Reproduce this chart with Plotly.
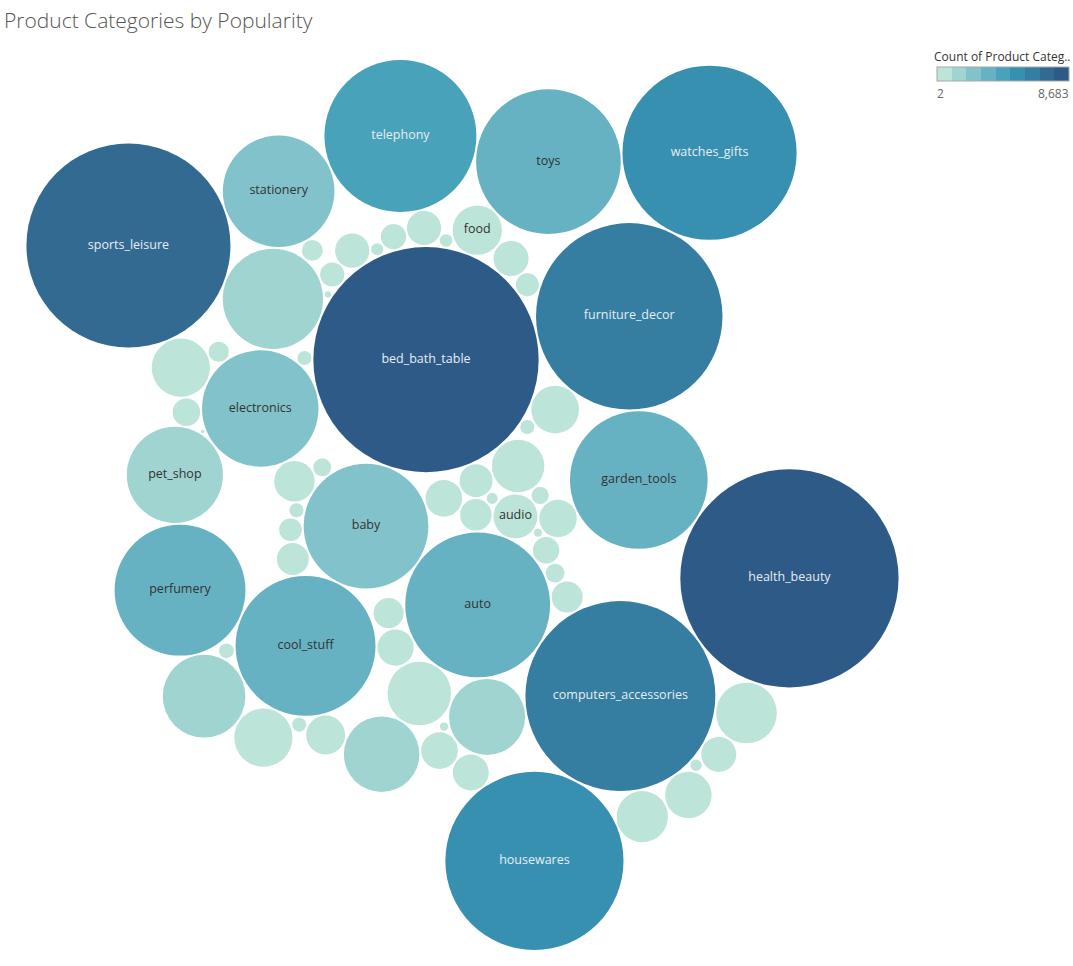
import math
import plotly.graph_objects as go

# ---------------- data ----------------
categories = [
    "agro_industry_and_commerce", "air_conditioning", "art", "arts_and_craftmanship", "audio",
    "auto", "baby", "bed_bath_table", "books_general_interest", "books_imported",
    "books_technical", "cds_dvds_musicals", "christmas_supplies", "cine_photo", "computers",
    "computers_accessories", "consoles_games", "construction_tools_construction",
    "construction_tools_lights", "construction_tools_safety", "cool_stuff",
    "costruction_tools_garden", "costruction_tools_tools", "diapers_and_hygiene", "drinks",
    "dvds_blu_ray", "electronics", "fashio_female_clothing", "fashion_bags_accessories",
    "fashion_childrens_clothes", "fashion_male_clothing", "fashion_shoes", "fashion_sport",
    "fashion_underwear_beach", "fixed_telephony", "flowers", "food", "food_drink",
    "furniture_bedroom", "furniture_decor", "furniture_living_room",
    "furniture_mattress_and_upholstery", "garden_tools", "health_beauty", "home_appliances",
    "home_appliances_2", "home_comfort_2", "home_confort", "home_construction", "housewares",
    "industry_commerce_and_business", "kitchen_dining_laundry_garden_furniture", "la_cuisine",
    "luggage_accessories", "market_place", "music", "musical_instruments", "office_furniture",
    "party_supplies", "perfumery", "pet_shop", "security_and_services",
    "signaling_and_security", "small_appliances", "small_appliances_home_oven_and_coffee",
    "sports_leisure", "stationery", "tablets_printing_image", "telephony", "toys",
    "watches_gifts",
]
counts = [
    170, 230, 185, 21, 330,
    3590, 2660, 8683, 470, 50,
    240, 11, 120, 60, 165,
    6170, 990, 690,
    225, 155, 3350,
    175, 88, 34, 280,
    55, 2320, 33, 1720,
    7, 100, 200, 25,
    110, 200, 27, 415, 210,
    90, 5950, 390,
    34, 3240, 8150, 630,
    210, 22, 370, 450, 5430,
    220, 230, 12,
    975, 260, 34, 580, 1170,
    37, 2930, 1580, 2,
    130, 580, 70,
    7120, 2130, 74, 3950, 3580,
    5190,
]

TITLE = "Product Categories by Popularity"
LEGEND_TITLE = "Count of Product Categ.."

# ---------------- style ----------------
STEP_COLORS = ["#bce4d8", "#9fd4d1", "#82c3cb", "#66b2c2", "#47a2ba",
               "#3890b1", "#357da1", "#336a91", "#2d5a87"]
W, H = 1073, 966
PLOT_X0, PLOT_X1 = 0, 925      # pixel box of the bubble area
PLOT_Y0, PLOT_Y1 = 60, 950
PAD = 0.8                      # half gap between bubbles (data units)
ROT_DEG = 152.7                # orientation of the packed layout
FONT = "Open Sans"

vmin, vmax = min(counts), max(counts)
nsteps = len(STEP_COLORS)


def step_index(v):
    idx = int((v - vmin) / (vmax - vmin) * nsteps)
    return min(idx, nsteps - 1)


# ---------------- front-chain sibling packing (spiral, in data order) ----------------
radii = [math.sqrt(v) for v in counts]
R = [r + PAD for r in radii]
n = len(R)
PX = [0.0] * n
PY = [0.0] * n
nxt = list(range(n))
prv = list(range(n))


def pack_place(a, b, c):
    db = R[a] + R[c]
    dx = PX[b] - PX[a]
    dy = PY[b] - PY[a]
    if db and (dx or dy):
        da = R[b] + R[c]
        dc = dx * dx + dy * dy
        da *= da
        db *= db
        x = 0.5 + (db - da) / (2 * dc)
        db2 = db - dc
        y = math.sqrt(max(0.0, 2 * da * (db + dc) - db2 * db2 - da * da)) / (2 * dc)
        PX[c] = PX[a] + x * dx + y * dy
        PY[c] = PY[a] + x * dy - y * dx
    else:
        PX[c] = PX[a] + db
        PY[c] = PY[a]


def pack_insert(a, b):
    c = nxt[a]
    nxt[a] = b
    prv[b] = a
    nxt[b] = c
    prv[c] = b


def pack_splice(a, b):
    nxt[a] = b
    prv[b] = a


def pack_intersects(a, b):
    dx = PX[b] - PX[a]
    dy = PY[b] - PY[a]
    dr = R[a] + R[b]
    return 0.999 * dr * dr > dx * dx + dy * dy


a = 0
PX[a] = -R[a]
b = 1
PX[b] = R[b]
c = 2
pack_place(a, b, c)
pack_insert(a, c)
prv[a] = c
pack_insert(c, b)
b = nxt[a]
i = 3
while i < n:
    c = i
    pack_place(a, b, c)
    isect = False
    s1, s2 = 1, 1
    j = nxt[b]
    while j != b:
        if pack_intersects(j, c):
            isect = True
            break
        j = nxt[j]
        s1 += 1
    if isect:
        k = prv[a]
        while k != prv[j]:
            if pack_intersects(k, c):
                break
            k = prv[k]
            s2 += 1
        if s1 < s2 or (s1 == s2 and R[b] < R[a]):
            b = j
            pack_splice(a, b)
        else:
            a = k
            pack_splice(a, b)
        continue
    pack_insert(a, c)
    b = c
    i += 1

# orientation of the whole layout
th = math.radians(ROT_DEG)
X = [PX[q] * math.cos(th) - PY[q] * math.sin(th) for q in range(n)]
Y = [PX[q] * math.sin(th) + PY[q] * math.cos(th) for q in range(n)]

# fit to the bubble area
xmin = min(X[q] - radii[q] for q in range(n))
xmax = max(X[q] + radii[q] for q in range(n))
ymin = min(Y[q] - radii[q] for q in range(n))
ymax = max(Y[q] + radii[q] for q in range(n))
bw_px = PLOT_X1 - PLOT_X0
bh_px = PLOT_Y1 - PLOT_Y0
scale = min(bw_px / (xmax - xmin), bh_px / (ymax - ymin))
cx = (xmin + xmax) / 2
cy = (ymin + ymax) / 2
xr = [cx - bw_px / 2 / scale, cx + bw_px / 2 / scale]
yr = [cy - bh_px / 2 / scale, cy + bh_px / 2 / scale]

fig = go.Figure()

shapes = []
for q in range(n):
    shapes.append(dict(
        type="circle", xref="x", yref="y",
        x0=X[q] - radii[q], x1=X[q] + radii[q],
        y0=Y[q] - radii[q], y1=Y[q] + radii[q],
        fillcolor=STEP_COLORS[step_index(counts[q])],
        line=dict(width=0), layer="below",
    ))

# labels: shown when the name fits inside the bubble
lab_x, lab_y, lab_t, lab_c = [], [], [], []
for q in range(n):
    r_px = radii[q] * scale
    text_w = len(categories[q]) * 6.4
    if r_px >= 20 and text_w <= 1.6 * r_px:
        lab_x.append(X[q])
        lab_y.append(Y[q])
        lab_t.append(categories[q])
        lab_c.append("#e6edf3" if step_index(counts[q]) >= 4 else "#333333")

stepped = []
for s, col in enumerate(STEP_COLORS):
    stepped.append([s / nsteps, col])
    stepped.append([(s + 1) / nsteps, col])

fig.add_trace(go.Scatter(
    x=X, y=Y, mode="markers",
    marker=dict(size=2, opacity=0, color=counts, colorscale=stepped,
                cmin=vmin, cmax=vmax, showscale=True,
                colorbar=dict(
                    orientation="h", x=937 / W, xanchor="left",
                    y=1 - 67 / H, yanchor="top",
                    len=132, lenmode="pixels", thickness=14,
                    outlinecolor="#a8a8a8", outlinewidth=1,
                    tickvals=[vmin, vmax], ticktext=["", ""], ticks="",
                    xpad=0, ypad=0,
                )),
    text=[f"{nm}<br>{v:,}" for nm, v in zip(categories, counts)],
    hoverinfo="text", showlegend=False,
))
fig.add_trace(go.Scatter(
    x=lab_x, y=lab_y, mode="text", text=lab_t,
    textfont=dict(family=FONT, size=12.5, color=lab_c),
    hoverinfo="skip", showlegend=False,
))

fig.add_annotation(x=932 / W, y=1 - 57 / H, xref="paper", yref="paper",
                   xanchor="left", yanchor="middle", showarrow=False,
                   text=LEGEND_TITLE, font=dict(family=FONT, size=12, color="#333333"))
fig.add_annotation(x=935 / W, y=1 - 93 / H, xref="paper", yref="paper",
                   xanchor="left", yanchor="middle", showarrow=False,
                   text=f"{vmin:,}", font=dict(family=FONT, size=12, color="#666666"))
fig.add_annotation(x=1071 / W, y=1 - 93 / H, xref="paper", yref="paper",
                   xanchor="right", yanchor="middle", showarrow=False,
                   text=f"{vmax:,}", font=dict(family=FONT, size=12, color="#666666"))

fig.update_layout(
    width=W, height=H,
    margin=dict(l=0, r=0, t=0, b=0),
    paper_bgcolor="white", plot_bgcolor="white",
    shapes=shapes,
    title=dict(text=TITLE, x=4 / W, xanchor="left", y=1 - 21 / H, yanchor="middle",
               font=dict(family=FONT, size=21, color="#555555", weight=300)),
    xaxis=dict(domain=[PLOT_X0 / W, PLOT_X1 / W], range=xr, visible=False, fixedrange=True),
    yaxis=dict(domain=[1 - PLOT_Y1 / H, 1 - PLOT_Y0 / H], range=yr, visible=False, fixedrange=True),
    hovermode="closest",
)

fig.write_html("out.html", config={"displayModeBar": False},
               post_script="document.body.style.margin='0';")
